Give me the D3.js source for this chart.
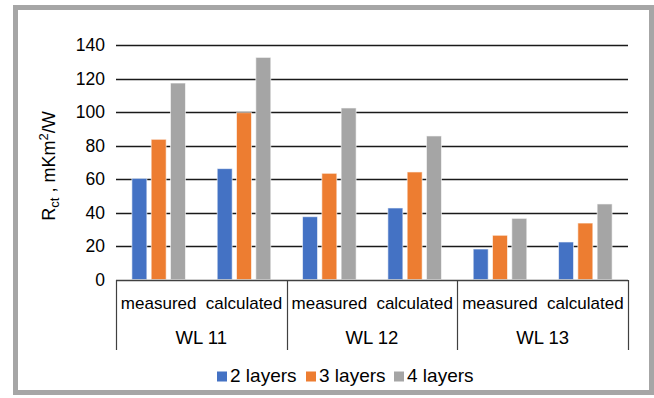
<!DOCTYPE html>
<html><head><meta charset="utf-8">
<script src="https://cdn.jsdelivr.net/npm/d3@7"></script>
<style>body{margin:0;background:#fff}svg{display:block}text{font-family:"Liberation Sans",Arial,sans-serif;fill:#000}</style>
</head><body><svg id="c" width="654" height="398"></svg>
<script>
const groups = ["WL 11", "WL 12", "WL 13"];
const subs = ["measured", "calculated"];
const seriesNames = ["2 layers", "3 layers", "4 layers"];
const colors = ["#4472c4", "#ed7d31", "#a5a5a5"];
// values per series, in order: WL11 meas, WL11 calc, WL12 meas, WL12 calc, WL13 meas, WL13 calc
const s2 = [60.4, 66.2, 37.5, 42.7, 18.2, 22.4];
const s3 = [83.7, 99.6, 63.4, 64.2, 26.4, 33.7];
const s4 = [117.3, 132.6, 102.4, 85.7, 36.5, 45.1];
const yTicks = [0, 20, 40, 60, 80, 100, 120, 140];

const svg = d3.select("#c");
svg.append("rect").attr("x", 15.5).attr("y", 7.5).attr("width", 636).attr("height", 385)
  .attr("fill", "none").attr("stroke", "#a6a6a6").attr("stroke-width", 5);

const L = 116, R = 628, T = 45, B = 279.5;
const cats = [];
groups.forEach(g => subs.forEach(s => cats.push(g + "|" + s)));
const x = d3.scaleBand().domain(cats).range([L, R]);
const y = d3.scaleLinear().domain([0, 140]).range([B, T]);

// gridlines
svg.append("g").selectAll("line").data(yTicks.filter(d => d > 0)).join("line")
  .attr("x1", L).attr("x2", R).attr("y1", d => Math.round(y(d)) + 0.5).attr("y2", d => Math.round(y(d)) + 0.5)
  .attr("stroke", "#1a1a1a").attr("stroke-width", 1.6);

// y tick labels via axis
const yAxis = svg.append("g").attr("transform", `translate(${L},0)`)
  .call(d3.axisLeft(y).tickValues(yTicks).tickSize(0).tickPadding(11));
yAxis.select(".domain").remove();
yAxis.selectAll("text").style("font-size", "17.5px").style("font-family", '"Liberation Sans",Arial,sans-serif').attr("fill", "#000");

// bars
const series = [s2, s3, s4];
const bw = 15, step = 19.3;
series.forEach((vals, si) => {
  svg.append("g").selectAll("rect").data(vals).join("rect")
    .attr("x", (d, i) => x(cats[i]) + x.bandwidth() / 2 + (si - 1) * step - bw / 2)
    .attr("width", bw)
    .attr("y", d => y(d))
    .attr("height", d => B - y(d))
    .attr("fill", colors[si])
    .attr("stroke", "#fff").attr("stroke-opacity", 0.6).attr("stroke-width", 1);
});

// x axis line
svg.append("line").attr("x1", L).attr("x2", R).attr("y1", 280.5).attr("y2", 280.5)
  .attr("stroke", "#404040").attr("stroke-width", 1.3);

// group separators
const gx = d3.scaleBand().domain(groups).range([L, R]);
const seps = groups.map(g => gx(g)).concat([R]);
svg.append("g").selectAll("line").data(seps).join("line")
  .attr("x1", d => Math.round(d) + 0.5).attr("x2", d => Math.round(d) + 0.5)
  .attr("y1", 280).attr("y2", 350).attr("stroke", "#404040").attr("stroke-width", 1.2);

// sub labels
svg.append("g").selectAll("text").data(cats).join("text")
  .attr("x", d => x(d) + x.bandwidth() / 2).attr("y", 309)
  .attr("text-anchor", "middle").style("font-size", "17px")
  .text(d => d.split("|")[1]);

// group labels
svg.append("g").selectAll("text").data(groups).join("text")
  .attr("x", d => gx(d) + gx.bandwidth() / 2).attr("y", 344)
  .attr("text-anchor", "middle").style("font-size", "18.5px")
  .text(d => d);

// y title
const yt = svg.append("text").attr("transform", "translate(55,166) rotate(-90)")
  .attr("text-anchor", "middle").style("font-size", "18px");
yt.append("tspan").text("R");
yt.append("tspan").attr("dy", 4).style("font-size", "13px").text("ct");
yt.append("tspan").attr("dy", -4).text(" , mKm");
yt.append("tspan").attr("dy", -7).style("font-size", "13px").text("2");
yt.append("tspan").attr("dy", 7).text("/W");

// legend
const lx = [217, 306, 394];
const lg = svg.append("g").selectAll("g").data(seriesNames).join("g")
  .attr("transform", (d, i) => `translate(${lx[i]},0)`);
lg.append("rect").attr("x", 0).attr("y", 371.5).attr("width", 10).attr("height", 10)
  .attr("fill", (d, i) => colors[i]);
lg.append("text").attr("x", 13).attr("y", 382).style("font-size", "19px").text(d => d);
</script></body></html>
